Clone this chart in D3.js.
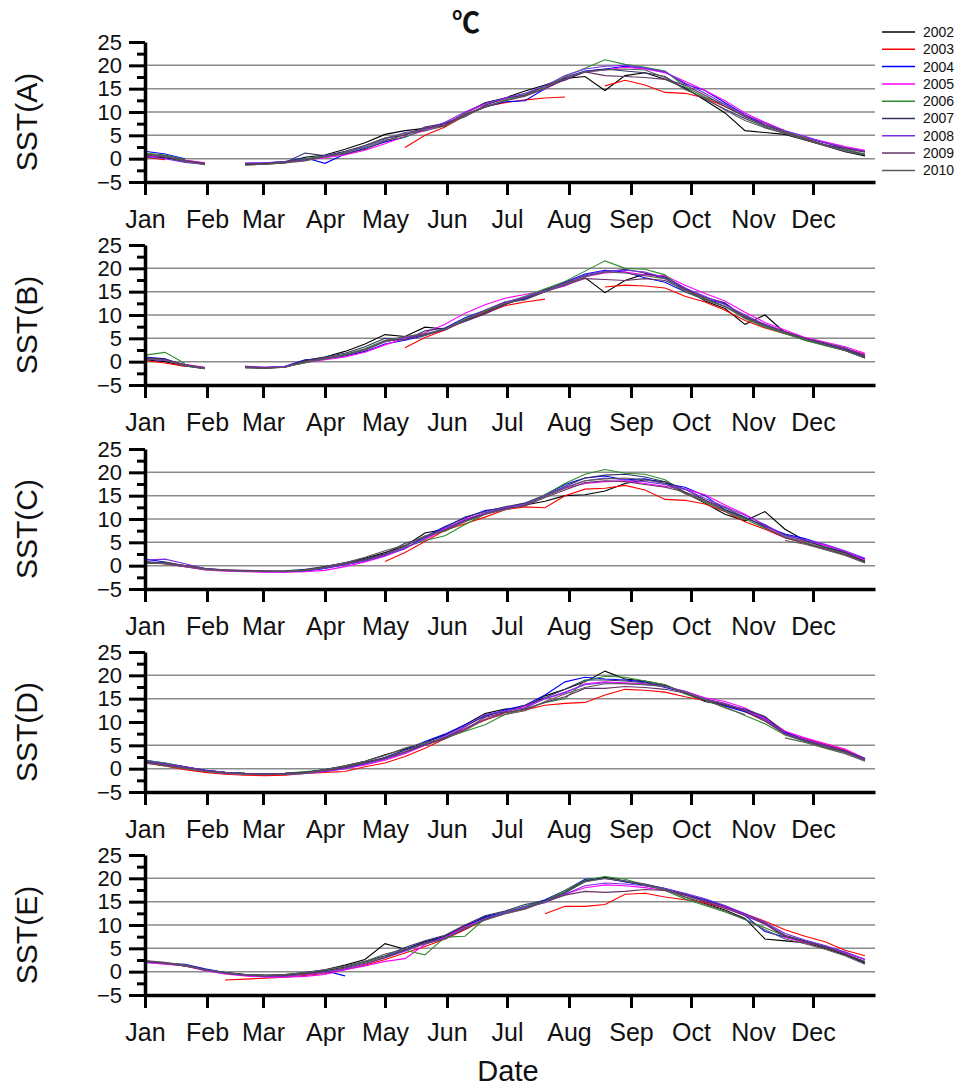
<!DOCTYPE html>
<html>
<head>
<meta charset="utf-8">
<script src="https://cdn.jsdelivr.net/npm/d3@7/dist/d3.min.js"></script>
<style>
  body { margin: 0; background: #fff; }
  text { font-family: "Liberation Sans", Arial, sans-serif; fill: #111; }
</style>
</head>
<body>
<svg id="chart" width="958" height="1089"></svg>
<script>
// SST by area, one line per year, sampled every 10 days
const years = ["2002", "2003", "2004", "2005", "2006", "2007", "2008", "2009", "2010"];
const yearColors = ["#000000", "#ff0000", "#0000ff", "#ff00ff", "#2e8b2e", "#333366", "#7a2ee6", "#663366", "#5a5a5a"];
const monthLabels = ["Jan", "Feb", "Mar", "Apr", "May", "Jun", "Jul", "Aug", "Sep", "Oct", "Nov", "Dec"];
const monthStarts = [0, 31, 59, 90, 120, 151, 181, 212, 243, 273, 304, 334];
const sampleDays = [0, 10, 20, 30, 40, 50, 60, 70, 80, 90, 100, 110, 120, 130, 140, 150, 160, 170, 180,
  190, 200, 210, 220, 230, 240, 250, 260, 270, 280, 290, 300, 310, 320, 330, 340, 350, 360];
const panelNames = ["SST(A)", "SST(B)", "SST(C)", "SST(D)", "SST(E)"];
const yTicks = [-5, 0, 5, 10, 15, 20, 25];
const yMinorTicks = [-2.5, 2.5, 7.5, 12.5, 17.5, 22.5];

const sstA = [
  [0.5, 0.2, -0.6, -1.2, null, -1.3, -1.2, -0.9, 0.3, 0.8, 2.0, 3.4, 5.2, 6.0, 6.5, 7.0, 9.8, 12.0, 13.0, 14.5, 15.8, 17.2, 17.6, 14.6, 17.8, 18.4, 17.0, 15.2, 12.5, 9.8, 6.0, 5.6, 5.2, 4.0, 2.8, 1.5, 0.6],
  [0.3, -0.2, null, null, null, null, null, null, null, null, null, null, null, 2.4, 5.0, 6.8, 9.2, 11.2, 12.0, 12.6, 13.0, 13.2, null, 15.6, 16.8, 15.8, 14.2, 14.0, 13.0, 11.2, 9.2, 7.6, 5.8, 4.6, 3.4, 2.4, 1.6],
  [1.6, 1.0, 0.0, null, null, -1.0, -0.9, -0.6, 0.2, -1.0, 1.0, 2.2, 3.6, 4.6, 6.4, 7.6, 9.4, 11.0, 12.2, 12.4, 15.0, 17.4, 18.8, 19.2, 19.8, 19.4, 18.6, 16.0, 14.6, 12.0, 9.4, 7.2, 5.8, 4.6, 3.4, 2.2, 1.5],
  [0.6, 0.4, -0.3, -0.9, null, -1.0, -1.0, -0.8, -0.3, 0.2, 0.8, 1.8, 3.2, 4.8, 6.0, 7.4, 9.8, 11.6, 12.8, 13.8, 15.0, 17.0, 18.6, 19.0, 19.6, 19.2, 18.4, 16.6, 14.6, 12.4, 9.8, 7.8, 6.0, 4.6, 3.6, 2.6, 1.8],
  [1.2, 0.8, -0.2, null, null, -1.1, -1.0, -0.7, 0.0, 0.6, 1.4, 2.4, 4.0, 4.6, 6.4, 7.2, 9.6, 11.0, 12.6, 13.8, 15.4, 17.6, 19.4, 21.2, 20.2, 19.6, 18.8, 15.4, 13.2, 11.6, 9.0, 7.0, 5.8, 4.4, 3.0, 2.0, 1.0],
  [0.8, 0.4, -0.5, -1.1, null, -1.2, -1.0, -0.8, 1.2, 0.6, 1.6, 2.8, 4.4, 5.0, 6.8, 7.6, 9.0, 11.4, 13.0, 13.6, 15.6, 16.8, 18.6, 19.2, 18.8, 18.4, 17.6, 15.0, 12.8, 10.6, 8.6, 6.8, 5.4, 4.2, 3.0, 1.8, 0.9],
  [0.4, 0.0, -0.8, -1.2, null, -1.0, -0.9, -0.7, -0.4, 0.6, 1.2, 2.6, 4.2, 5.6, 6.2, 7.8, 10.0, 11.8, 13.0, 14.0, 15.6, 17.8, 19.2, 19.8, 20.0, 19.4, 18.6, 16.2, 14.0, 11.6, 9.4, 7.6, 6.0, 4.8, 3.4, 2.4, 1.6],
  [1.0, 0.6, -0.4, -1.0, null, -1.1, -1.0, -0.6, -0.2, 0.4, 1.0, 2.0, 3.8, 5.2, 6.6, 7.2, 9.4, 11.2, 12.4, 13.4, 15.0, 17.0, 18.6, 17.8, 17.6, 17.4, 17.0, 15.8, 13.6, 11.2, 9.0, 7.2, 5.6, 4.2, 3.0, 2.2, 1.4],
  [0.9, 0.5, -0.6, -1.3, null, -1.4, -1.2, -0.9, -0.5, 0.4, 1.2, 2.8, 4.4, 5.4, 6.0, 7.0, 9.2, 11.0, 12.4, 13.6, 15.2, 17.4, 18.6, 19.0, 19.2, 19.0, 17.4, 14.8, 13.0, 10.4, 8.2, 6.6, 5.4, 4.0, 2.8, 1.6, 0.8]
];

const sstB = [
  [0.4, 0.0, -0.9, -1.5, null, -1.3, -1.4, -1.2, 0.2, 1.0, 2.2, 3.8, 5.8, 5.4, 7.4, 7.0, 8.8, 10.6, 12.4, 13.6, 15.4, 16.8, 18.0, 14.8, 17.4, 18.8, 18.2, 15.8, 13.0, 11.4, 8.0, 10.0, 6.2, 4.6, 3.6, 2.4, 0.8],
  [0.2, -0.3, -1.0, null, null, null, null, null, null, null, null, null, null, 3.0, 5.2, 6.8, 8.8, 10.4, 12.0, 12.8, 13.4, null, null, 16.0, 16.4, 16.2, 15.8, 14.0, 12.8, 11.0, 8.8, 7.2, 6.0, 4.8, 3.8, 2.8, 1.6],
  [1.0, 0.6, -0.8, -1.4, null, -1.2, -1.3, -1.0, 0.4, 0.6, 1.2, 2.2, 3.8, 4.6, 5.6, 7.2, 9.4, 11.0, 12.8, 13.4, 15.0, 17.0, 18.8, 19.6, 19.2, 18.0, 17.0, 15.0, 13.4, 12.4, 9.6, 7.6, 6.2, 4.8, 3.8, 2.6, 1.2],
  [0.6, 0.3, -0.6, -1.2, null, -1.0, -1.2, -1.0, -0.2, 0.4, 1.0, 2.0, 3.6, 5.0, 6.2, 8.0, 10.4, 12.2, 13.6, 14.4, 15.2, 16.2, 18.2, 19.0, 19.2, 18.6, 18.4, 16.4, 14.6, 13.0, 10.6, 8.4, 6.8, 5.2, 4.2, 3.2, 1.8],
  [1.4, 2.0, -0.4, null, null, -1.2, -1.3, -1.1, -0.3, 0.8, 1.6, 2.8, 4.6, 5.2, 5.6, 7.0, 9.2, 10.8, 12.6, 14.0, 15.6, 17.2, 19.4, 21.6, 20.0, 19.8, 18.6, 15.2, 13.4, 11.8, 9.2, 7.4, 6.0, 4.6, 3.4, 2.4, 0.8],
  [0.9, 0.5, -0.8, -1.4, null, -1.1, -1.4, -1.1, 0.3, 1.0, 1.8, 3.2, 5.0, 4.6, 6.6, 7.2, 8.6, 10.2, 12.2, 13.8, 15.2, 17.0, 18.4, 19.2, 19.8, 19.0, 17.8, 15.6, 13.8, 12.6, 9.4, 8.0, 6.4, 5.0, 3.8, 2.6, 1.0],
  [0.6, 0.2, -0.7, -1.3, null, -1.0, -1.2, -1.0, 0.0, 0.6, 1.4, 2.6, 4.2, 5.2, 5.8, 7.0, 9.0, 11.0, 12.8, 13.8, 15.2, 16.8, 18.6, 19.4, 19.6, 19.2, 18.0, 15.8, 14.0, 12.2, 10.0, 8.0, 6.4, 5.0, 4.0, 2.8, 1.4],
  [0.8, 0.4, -0.6, -1.3, null, -1.1, -1.3, -1.2, 0.1, 0.8, 1.4, 2.4, 4.4, 4.8, 5.8, 6.8, 8.8, 10.6, 12.4, 13.6, 15.0, 16.4, 17.8, 17.6, 17.4, 17.8, 17.4, 15.4, 13.6, 11.8, 9.8, 7.8, 6.4, 5.0, 4.0, 3.0, 1.2],
  [0.7, 0.3, -0.9, -1.5, null, -1.3, -1.4, -1.2, -0.1, 0.6, 1.4, 2.6, 4.4, 5.4, 6.0, 7.0, 9.0, 11.0, 12.6, 13.2, 15.0, 16.6, 18.2, 19.2, 19.0, 18.4, 17.8, 15.0, 13.2, 11.8, 9.4, 7.6, 6.2, 4.8, 3.6, 2.4, 0.8]
];

const sstC = [
  [0.6, 0.4, -0.2, -0.8, -1.0, -1.1, -1.2, -1.3, -1.0, -0.2, 0.6, 1.6, 2.8, 4.2, 7.0, 7.8, 9.6, 11.2, 12.2, 13.0, 13.8, 15.0, 15.2, 16.0, 17.6, 18.4, 18.0, 15.6, 13.4, 11.0, 9.6, 11.6, 7.8, 5.4, 4.0, 2.8, 1.0],
  [null, null, null, null, null, null, null, null, null, null, null, null, 0.9, 2.8, 5.2, 7.6, 9.0, 10.4, 12.0, 12.6, 12.4, 15.0, 16.4, 16.6, 17.2, 16.2, 14.2, 14.0, 13.2, 11.6, 9.4, 7.8, 6.0, 4.8, 3.6, 2.4, 0.8],
  [1.4, 0.8, 0.0, -0.6, -1.0, -1.2, -1.3, -1.3, -1.2, -0.6, 0.2, 1.0, 2.2, 3.6, 6.2, 8.4, 10.2, 11.8, 12.4, 13.0, 15.2, 17.4, 18.8, 19.2, 18.4, 18.6, 17.6, 16.8, 15.0, 12.0, 10.4, 8.4, 6.8, 5.8, 4.4, 3.0, 1.4],
  [0.8, 0.4, -0.2, -0.9, -1.2, -1.3, -1.4, -1.4, -1.3, -1.0, -0.2, 0.8, 2.0, 3.8, 5.6, 7.8, 10.0, 11.2, 12.0, 13.2, 15.0, 16.6, 17.6, 18.0, 18.2, 17.6, 17.0, 16.4, 15.2, 13.0, 11.0, 8.6, 6.2, 5.2, 4.4, 3.0, 1.2],
  [0.5, 0.8, 0.0, -0.8, -1.0, -1.1, -1.2, -1.2, -1.0, -0.4, 0.4, 1.2, 2.4, 4.0, 5.4, 6.4, 8.8, 11.0, 12.4, 13.4, 15.2, 17.6, 19.6, 20.6, 19.8, 19.6, 18.4, 15.8, 13.6, 11.8, 10.0, 8.0, 6.2, 5.0, 3.8, 2.6, 0.9],
  [0.9, 0.5, 0.0, -0.7, -0.9, -1.1, -1.2, -1.1, -0.8, -0.2, 0.6, 1.4, 2.6, 4.8, 6.0, 8.2, 10.4, 11.6, 12.6, 13.4, 15.0, 17.0, 18.8, 19.4, 19.6, 19.0, 18.0, 16.4, 14.0, 12.0, 10.2, 8.6, 6.6, 5.4, 4.0, 2.8, 0.8],
  [1.2, 1.4, 0.4, -0.6, -1.0, -1.2, -1.3, -1.3, -1.1, -0.5, 0.2, 1.0, 2.2, 3.8, 5.8, 8.0, 9.8, 11.4, 12.4, 13.2, 15.0, 16.8, 18.2, 18.8, 18.4, 18.0, 17.4, 16.4, 14.4, 12.6, 10.8, 8.8, 6.4, 5.6, 4.6, 3.2, 1.6],
  [0.8, 0.6, 0.0, -0.6, -0.9, -1.0, -1.1, -1.2, -1.0, -0.4, 0.4, 1.2, 2.4, 4.2, 6.2, 7.6, 9.6, 11.0, 12.2, 12.8, 14.6, 16.2, 17.8, 18.2, 18.0, 17.4, 16.8, 15.8, 14.0, 12.4, 10.4, 8.2, 6.0, 4.8, 3.6, 2.4, 0.6],
  [0.7, 0.4, -0.1, -0.8, -1.0, -1.2, -1.2, -1.2, -1.0, -0.3, 0.6, 1.8, 3.2, 4.4, 6.4, 7.4, 9.4, 11.0, 12.0, 13.0, 14.8, 16.6, 18.2, 18.6, 18.8, 18.4, 17.6, 15.4, 13.8, 11.6, 9.8, null, 5.4, 4.6, 3.4, 2.2, 0.6]
];

const sstD = [
  [1.4, 0.8, 0.2, -0.4, -0.8, -1.0, -1.1, -1.0, -0.8, -0.2, 0.6, 1.6, 3.0, 4.2, 5.6, 7.2, 9.4, 11.8, 12.8, 13.0, 15.6, 17.0, 18.6, 20.9, 19.2, 18.8, 18.0, 16.2, 14.4, 13.6, 12.6, 11.0, 8.0, 6.0, 4.6, 3.6, 2.2],
  [1.2, 0.6, -0.2, -0.8, -1.2, -1.4, -1.5, -1.4, -1.0, -0.8, -0.6, 0.4, 1.2, 2.6, 4.4, 6.4, 8.6, 10.4, 12.0, 12.6, 13.6, 14.0, 14.2, 15.8, 17.0, 16.8, 16.4, 15.4, 14.6, 13.8, 12.2, 10.2, 7.6, 6.4, 5.2, 4.0, 2.2],
  [1.8, 1.2, 0.4, -0.3, -0.8, -1.1, -1.2, -1.2, -0.9, -0.4, 0.2, 1.0, 2.4, 4.0, 5.8, 7.4, 9.4, 11.2, 12.6, 13.6, 15.8, 18.6, 19.6, 19.2, 19.0, 18.6, 17.4, 16.4, 14.8, 13.4, 12.2, 10.6, 7.8, 6.2, 5.0, 3.8, 2.0],
  [1.6, 1.0, 0.2, -0.5, -1.0, -1.2, -1.3, -1.2, -1.0, -0.6, 0.0, 0.8, 1.8, 3.2, 5.0, 6.8, 8.6, 10.6, 12.2, 13.4, 15.0, 16.2, 18.2, 18.6, 18.4, 18.2, 17.6, 16.6, 15.2, 14.4, 13.0, 10.8, 8.0, 6.6, 5.4, 4.2, 2.2],
  [1.8, 1.2, 0.4, -0.4, -0.8, -1.0, -1.1, -1.0, -0.6, -0.4, 0.4, 1.2, 2.2, 3.6, 5.4, 6.6, 8.0, 9.4, 11.6, 12.8, 14.2, 15.0, 18.8, 19.8, 19.6, 18.8, 18.0, 16.0, 14.6, 13.2, 11.4, 9.6, 7.2, 5.8, 4.6, 3.4, 1.8],
  [1.6, 1.0, 0.4, -0.4, -0.8, -1.0, -1.1, -1.0, -0.8, -0.2, 0.4, 1.4, 2.4, 4.0, 5.2, 6.6, 9.0, 11.4, 12.2, 13.6, 15.2, 17.0, 19.0, 19.0, 18.8, 18.4, 17.8, 16.2, 14.6, 13.6, 12.8, 11.2, 7.6, 6.0, 5.0, 3.8, 2.2],
  [1.6, 1.0, 0.4, -0.4, -0.8, -1.1, -1.2, -1.2, -1.0, -0.6, 0.0, 1.0, 2.0, 3.4, 5.2, 7.0, 9.2, 11.6, 12.4, 13.0, 15.0, 16.4, 18.0, 18.4, 18.2, 18.0, 17.6, 16.6, 15.0, 14.0, 12.6, 10.6, 7.6, 6.2, 5.0, 3.6, 2.0],
  [1.4, 0.8, 0.2, -0.5, -0.9, -1.1, -1.2, -1.1, -0.9, -0.4, 0.2, 1.2, 2.2, 3.6, 5.0, 6.4, 8.4, 11.0, 12.0, 12.8, 14.2, 15.4, 17.2, 17.2, 17.6, 17.4, 17.0, 16.2, 14.8, 13.8, 12.4, 10.2, 7.4, 6.0, 4.8, 3.6, 1.8],
  [1.2, 0.6, 0.0, -0.6, -1.0, -1.2, -1.3, -1.2, -1.0, -0.2, 0.6, 1.6, 2.8, 4.4, 5.6, 6.4, 8.2, 10.6, 11.6, 12.4, 14.4, 16.0, 17.4, 18.2, 18.2, 18.0, 17.6, 16.4, 14.8, 13.0, 11.6, null, 6.6, 5.6, 4.4, 3.2, 1.6]
];

const sstE = [
  [2.2, 1.8, 1.2, 0.4, -0.2, -0.6, -0.8, -0.6, -0.2, 0.4, 1.4, 2.6, 6.0, 4.8, 6.4, 7.6, 9.8, 11.6, 12.6, 13.6, 15.2, 17.0, 19.6, 20.2, 19.4, 18.4, 17.6, 16.0, 14.6, 13.2, 11.4, 7.0, 6.6, 6.2, 5.0, 3.6, 1.8],
  [null, null, null, null, -1.8, -1.6, -1.4, -1.2, -0.8, -0.4, 0.4, 1.4, 2.6, 4.0, 5.4, 7.0, 9.0, 11.2, null, null, 12.4, 14.0, 14.0, 14.4, 16.6, 16.8, 16.0, 15.4, 14.8, 13.6, 12.4, 10.8, 9.0, 7.6, 6.4, 4.6, 3.4],
  [2.0, 1.8, 1.6, 0.6, -0.2, -0.8, -1.0, -0.8, -0.4, 0.2, -0.9, null, 3.2, 4.8, 6.2, 7.4, 9.6, 11.8, 12.8, 14.0, 15.4, 17.4, 19.8, 20.0, 19.2, 18.6, 17.8, 16.6, 15.4, 14.0, 12.0, 8.6, 7.4, 6.4, 5.4, 4.2, 2.6],
  [2.0, 1.6, 1.2, 0.2, -0.5, -0.9, -1.2, -1.2, -1.0, -0.6, 0.4, 1.2, 2.2, 2.8, 5.8, 7.4, 9.6, 11.2, 12.6, 13.6, 15.0, 16.6, 18.0, 18.6, 18.4, 18.0, 17.4, 16.4, 15.0, 13.8, 12.2, 10.2, 7.4, 6.2, 5.4, 4.0, 2.6],
  [2.2, 1.8, 1.2, 0.4, -0.3, -0.7, -0.9, -0.8, -0.4, 0.2, 1.0, 2.0, 3.2, 4.6, 3.6, 7.4, 7.6, 11.4, 12.8, 14.0, 15.2, 17.4, 19.6, 20.4, 19.8, 18.6, 17.4, 15.6, 14.2, 12.8, 11.2, 9.4, 7.6, 6.4, 5.2, 3.8, 2.2],
  [2.3, 1.9, 1.4, 0.5, -0.2, -0.6, -0.8, -0.7, -0.4, 0.2, 1.0, 2.2, 3.4, 5.2, 6.6, 7.8, 10.0, 12.0, 13.0, 14.4, 15.2, 16.8, 19.4, 20.0, 19.4, 18.8, 17.8, 16.6, 15.2, 14.0, 12.4, 10.4, 7.8, 6.6, 5.4, 3.8, 2.0],
  [2.1, 1.8, 1.4, 0.3, -0.4, -0.8, -1.0, -1.0, -0.6, -0.2, 0.6, 1.6, 3.0, 4.4, 6.0, 7.2, 9.2, 11.4, 12.6, 13.8, 14.8, 16.6, 18.4, 19.0, 18.8, 18.4, 17.8, 16.8, 15.6, 14.2, 12.4, 10.6, 8.2, 6.8, 5.6, 4.2, 2.6],
  [2.2, 1.8, 1.2, 0.4, -0.3, -0.7, -0.9, -0.8, -0.5, 0.0, 0.8, 1.8, 3.0, 4.6, 6.2, 7.0, 9.2, 11.2, 12.4, 13.6, 15.0, 16.4, 17.2, 17.0, 17.2, 17.6, 17.4, 16.4, 15.0, 13.6, 12.0, 10.2, 7.6, 6.4, 5.2, 3.8, 2.2],
  [2.4, 2.0, 1.4, 0.4, -0.2, -0.6, -0.8, -0.6, -0.2, 0.4, 1.2, 2.2, 3.8, 4.8, 6.0, 7.0, 9.4, 11.0, 12.4, 13.4, 15.0, 17.0, 19.2, 20.0, 19.4, 18.6, 17.6, 16.0, 14.4, 13.0, 11.2, 9.0, 7.0, 6.0, 4.8, 3.4, 1.6]
];

const panelData = [sstA, sstB, sstC, sstD, sstE];
// gridline values per panel (panel D shows no line at 10)
const panelGrid = [[0, 5, 10, 15, 20], [0, 5, 10, 15, 20], [0, 5, 10, 15, 20], [0, 5, 15, 20], [0, 5, 10, 15, 20]];

const panelBottoms = [182, 385, 589, 792, 995];
const panelHeight = 140;
const plotLeft = 145, plotRight = 875;

const svg = d3.select("#chart");

const x = d3.scaleLinear().domain([0, 365]).range([plotLeft, plotRight]);

const fmt = d => d < 0 ? "\u2212" + Math.abs(d) : String(d);

panelData.forEach((series, p) => {
  const bottom = panelBottoms[p];
  const y = d3.scaleLinear().domain([-5, 25]).range([bottom, bottom - panelHeight]);
  const g = svg.append("g");

  // gridlines
  g.selectAll("line.grid")
    .data(panelGrid[p])
    .enter()
    .append("line")
    .attr("class", "grid")
    .attr("x1", plotLeft).attr("x2", plotRight)
    .attr("y1", d => y(d)).attr("y2", d => y(d))
    .attr("stroke", "#8a8a8a")
    .attr("stroke-width", 1.5);

  // year lines
  const line = d3.line()
    .defined(v => v !== null)
    .x((v, i) => x(sampleDays[i]))
    .y(v => y(v));

  g.selectAll("path.year")
    .data(series)
    .enter()
    .append("path")
    .attr("class", "year")
    .attr("fill", "none")
    .attr("stroke", (d, i) => yearColors[i])
    .attr("stroke-width", 1.1)
    .attr("d", line);

  // y axis, major + minor ticks
  const yAxis = g.append("g")
    .attr("transform", `translate(${plotLeft},0)`)
    .call(d3.axisLeft(y).tickValues(yTicks).tickSize(16).tickSizeOuter(0).tickPadding(7).tickFormat(fmt));
  const yMinor = g.append("g")
    .attr("transform", `translate(${plotLeft},0)`)
    .call(d3.axisLeft(y).tickValues(yMinorTicks).tickSize(8).tickSizeOuter(0).tickFormat(""));
  yMinor.select(".domain").remove();

  [yAxis, yMinor].forEach(a => {
    a.selectAll(".domain").attr("stroke", "#000").attr("stroke-width", 3.5);
    a.selectAll(".tick line").attr("stroke", "#000").attr("stroke-width", 3);
  });
  yAxis.selectAll(".tick text")
    .attr("font-size", 22)
    .attr("fill", "#111")
    .attr("font-family", "'Liberation Sans', Arial, sans-serif");

  // x axis with month ticks
  const xAxis = g.append("g")
    .attr("transform", `translate(0,${bottom})`)
    .call(d3.axisBottom(x).tickValues(monthStarts).tickSize(13).tickSizeOuter(0).tickPadding(15)
      .tickFormat((d, i) => monthLabels[i]));
  xAxis.select(".domain").attr("stroke", "#000").attr("stroke-width", 3.5);
  xAxis.selectAll(".tick line").attr("stroke", "#000").attr("stroke-width", 3);
  xAxis.selectAll(".tick text")
    .attr("font-size", 25)
    .attr("fill", "#111")
    .attr("font-family", "'Liberation Sans', Arial, sans-serif");

  // panel label
  svg.append("text")
    .attr("transform", `translate(37,${bottom - panelHeight / 2 + 10}) rotate(-90)`)
    .attr("text-anchor", "middle")
    .attr("font-size", 30)
    .text(panelNames[p]);
});

// unit title and axis title
svg.append("text")
  .attr("x", 466).attr("y", 33)
  .attr("text-anchor", "middle")
  .attr("font-size", 28)
  .attr("font-weight", "bold")
  .style("font-family", "'Noto Sans CJK JP', 'DejaVu Sans', sans-serif")
  .text("\u2103");

svg.append("text")
  .attr("x", 508).attr("y", 1081)
  .attr("text-anchor", "middle")
  .attr("font-size", 29)
  .text("Date");

// legend
const legend = svg.append("g");
years.forEach((yr, i) => {
  const ly = 32 + i * 17.3;
  legend.append("line")
    .attr("x1", 882).attr("x2", 915)
    .attr("y1", ly).attr("y2", ly)
    .attr("stroke", yearColors[i])
    .attr("stroke-width", 1.5);
  legend.append("text")
    .attr("x", 923).attr("y", ly)
    .attr("dy", "0.35em")
    .attr("font-size", 14)
    .text(yr);
});
</script>
</body>
</html>
